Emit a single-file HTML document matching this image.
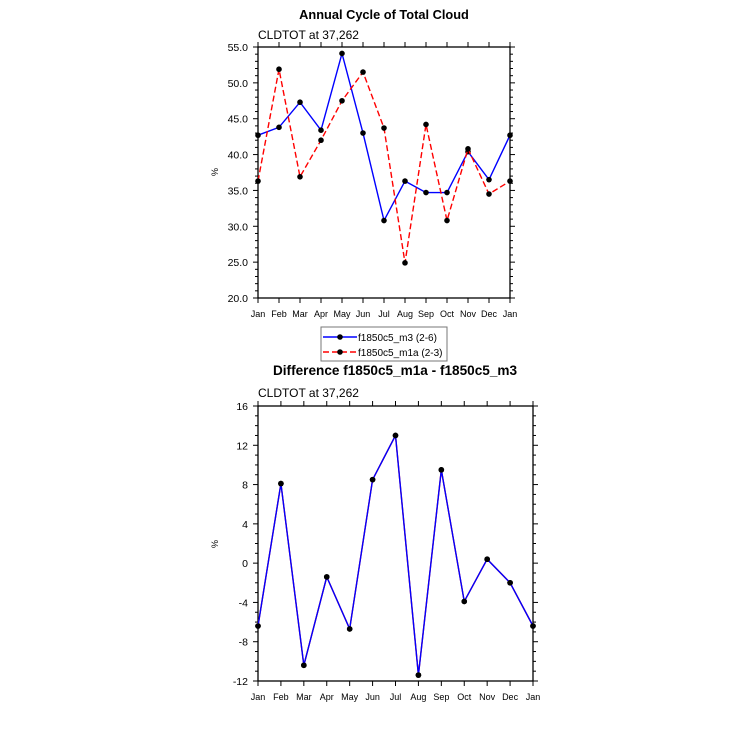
<!DOCTYPE html>
<html><head><meta charset="utf-8"><style>
html,body{margin:0;padding:0;background:#fff;width:730px;height:730px;overflow:hidden}
svg{display:block;font-family:"Liberation Sans",Arial,sans-serif}
</style></head><body>
<svg id="s" width="730" height="730" viewBox="0 0 730 730" xmlns="http://www.w3.org/2000/svg"></svg>
<script>
const s=document.getElementById('s');let h='';
const M=['Jan','Feb','Mar','Apr','May','Jun','Jul','Aug','Sep','Oct','Nov','Dec','Jan'];
function plot(x0,x1,y0,y1,vmin,vmax,major,minor,fmt,series){
 const X=i=>x0+(x1-x0)*i/12, Y=v=>y1-(y1-y0)*(v-vmin)/(vmax-vmin);
 let t='';
 for(let i=0;i<=12;i++){const x=X(i);
  t+=`<line x1="${x}" y1="${y0}" x2="${x}" y2="${y0-5}"/><line x1="${x}" y1="${y1}" x2="${x}" y2="${y1+5}"/>`;
  h+=`<text x="${x}" y="${y1+19}" font-size="9" text-anchor="middle">${M[i]}</text>`;}
 for(let v=vmin;v<=vmax+1e-9;v+=minor){const y=Y(v);const maj=Math.abs((v-vmin)/major-Math.round((v-vmin)/major))<1e-6;const L=maj?5:3;
  t+=`<line x1="${x0}" y1="${y}" x2="${x0-L}" y2="${y}"/><line x1="${x1}" y1="${y}" x2="${x1+L}" y2="${y}"/>`;
  if(maj)h+=`<text x="${x0-10}" y="${y+4}" font-size="10.5" text-anchor="end">${fmt(v)}</text>`;}
 h+=`<g stroke="#000" stroke-width="1">${t}</g><rect x="${x0}" y="${y0}" width="${x1-x0}" height="${y1-y0}" fill="none" stroke="#000" stroke-width="1.3"/>`;
 for(const [d,c,dash] of series){
  h+=`<polyline fill="none" stroke="${c}" stroke-width="1.4" ${dash?'stroke-dasharray="6,3"':''} points="${d.map((v,i)=>X(i)+','+Y(v)).join(' ')}"/>`;
  h+=d.map((v,i)=>`<circle cx="${X(i)}" cy="${Y(v)}" r="2.8" fill="#000"/>`).join('');}
}
h+=`<text x="384" y="19" font-size="12.8" font-weight="bold" text-anchor="middle">Annual Cycle of Total Cloud</text>`;
h+=`<text x="258" y="39" font-size="12">CLDTOT at 37,262</text>`;
h+=`<text x="218" y="172" font-size="9" text-anchor="middle" transform="rotate(-90 218 172)">%</text>`;
plot(258,510,47,298,20,55,5,1,v=>v.toFixed(1),[
 [[42.7,43.8,47.3,43.4,54.1,43.0,30.8,36.3,34.7,34.7,40.4,36.5,42.7],'#0000ff',false],
 [[36.3,51.9,36.9,42.0,47.5,51.5,43.7,24.9,44.2,30.8,40.8,34.5,36.3],'#ff0000',true]]);
h+=`<rect x="321" y="327" width="126" height="34" fill="#fff" stroke="#777" stroke-width="1"/>`;
h+=`<line x1="323" y1="337" x2="357" y2="337" stroke="#00f" stroke-width="1.4"/><circle cx="340" cy="337" r="2.8"/>`;
h+=`<line x1="323" y1="352" x2="357" y2="352" stroke="#f00" stroke-width="1.4" stroke-dasharray="6,3"/><circle cx="340" cy="352" r="2.8"/>`;
h+=`<text x="358" y="341" font-size="10">f1850c5_m3 (2-6)</text><text x="358" y="356" font-size="10">f1850c5_m1a (2-3)</text>`;
h+=`<text x="395" y="375" font-size="13.6" font-weight="bold" text-anchor="middle">Difference f1850c5_m1a - f1850c5_m3</text>`;
h+=`<text x="258" y="397" font-size="12">CLDTOT at 37,262</text>`;
h+=`<text x="218" y="544" font-size="9" text-anchor="middle" transform="rotate(-90 218 544)">%</text>`;
const d=[-6.4,8.1,-10.4,-1.4,-6.7,8.5,13.0,-11.4,9.5,-3.9,0.4,-2.0,-6.4];
plot(258,533,406,681,-12,16,4,1,v=>String(Math.round(v)),[[d,'#ff0000',false],[d,'#0000ff',false]]);
s.innerHTML=h;
</script>
</body></html>
